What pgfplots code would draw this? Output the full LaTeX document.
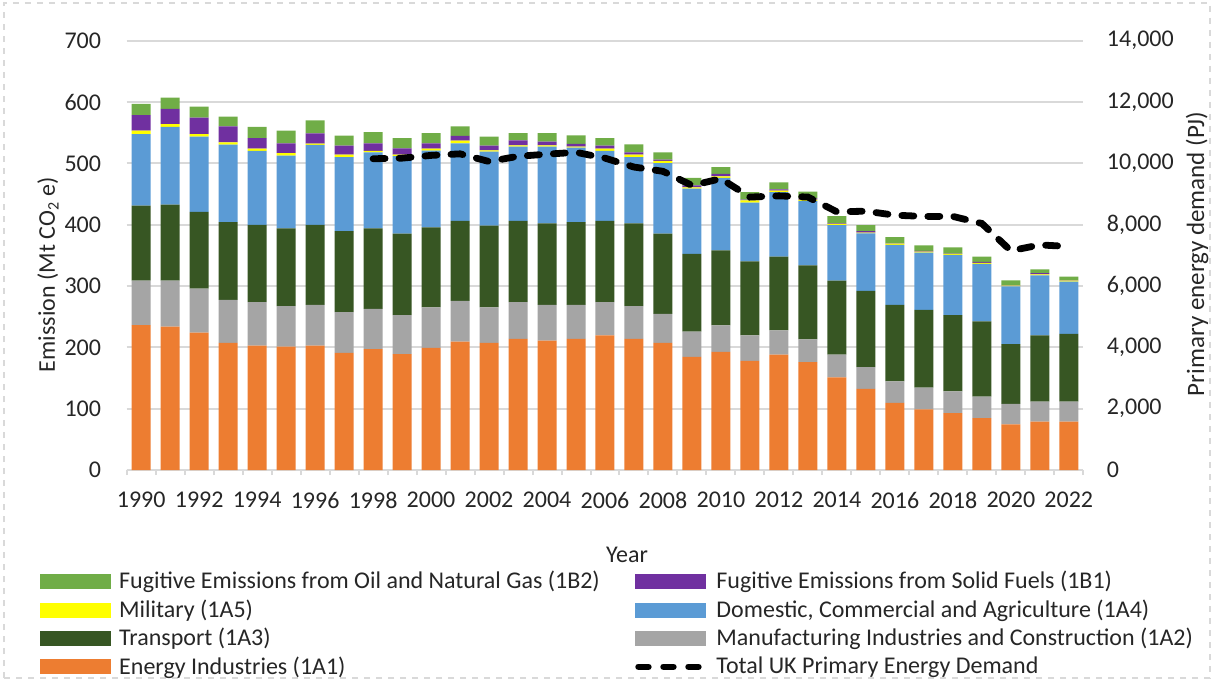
\documentclass[border=0pt]{standalone}
\usepackage{fontspec}
\setmainfont{Carlito}
\usepackage{pgfplots}
\pgfplotsset{compat=1.18}
\usepackage{pgfplotstable}
\definecolor{cA1}{HTML}{ED7D31}
\definecolor{cA2}{HTML}{A5A5A5}
\definecolor{cA3}{HTML}{375623}
\definecolor{cA4}{HTML}{5B9BD5}
\definecolor{cA5}{HTML}{FFFF00}
\definecolor{cB1}{HTML}{7030A0}
\definecolor{cB2}{HTML}{70AD47}
\definecolor{gridc}{HTML}{D9D9D9}
\definecolor{txt}{HTML}{262626}

\pgfplotstableread{
year A1 A2 A3 A4 A5 B1 B2
1990 236.4 72.3 122.5 116.6 5.4 25.3 18.4
1991 233.7 75.0 124.1 126.8 4.4 24.8 18.3
1992 224.0 71.7 125.2 122.5 4.4 26.9 17.9
1993 207.2 70.2 126.8 126.3 3.8 25.9 16.2
1994 202.9 70.7 126.3 120.3 3.8 17.3 18.3
1995 201.3 65.8 126.9 118.7 3.8 16.2 20.5
1996 202.9 66.4 130.6 130.1 2.1 16.7 21.1
1997 191.0 66.4 132.2 120.4 4.3 14.6 16.2
1998 197.0 65.8 131.2 124.0 2.2 12.4 18.4
1999 188.9 63.7 132.7 126.3 2.7 10.3 16.7
2000 199.1 65.9 130.6 125.2 3.2 8.7 16.7
2001 209.4 66.4 130.6 126.2 4.4 8.0 15.2
2002 207.2 57.8 133.3 120.9 2.1 7.6 14.5
2003 213.7 59.9 132.8 120.9 2.1 8.1 11.9
2004 211.0 58.3 132.7 125.3 2.1 6.0 14.0
2005 213.7 55.6 134.9 121.4 1.7 4.3 14.0
2006 219.6 54.0 132.8 113.8 3.8 4.9 12.4
2007 213.7 53.4 134.9 108.0 4.3 3.8 12.9
2008 207.2 47.5 130.6 115.0 3.7 2.2 11.9
2009 184.6 41.0 126.8 106.3 2.2 3.2 12.4
2010 192.7 43.1 122.5 118.2 2.2 4.3 10.8
2011 178.1 41.5 120.4 96.0 3.8 1.1 12.4
2012 188.3 39.4 120.4 105.2 2.2 2.1 11.4
2013 175.9 37.3 120.3 105.2 2.2 2.2 10.8
2014 151.1 37.2 120.4 90.7 2.1 0.5 11.9
2015 132.2 35.6 124.2 93.9 1.1 2.6 9.8
2016 109.6 35.0 124.7 97.7 2.1 0.3 10.3
2017 98.8 35.6 126.8 93.4 1.6 1.1 9.1
2018 92.8 35.6 124.2 98.2 1.6 0.3 10.3
2019 84.7 35.1 122.5 93.9 1.6 1.6 8.7
2020 74.5 33.4 97.2 94.4 1.1 0.3 8.1
2021 78.8 32.9 107.9 97.7 1.7 2.1 5.9
2022 78.8 32.9 110.1 85.3 1.6 0.3 6.5
}\emis

\pgfplotstableread{
year pj
1998 10150
1999 10170
2000 10260
2001 10310
2002 10060
2003 10230
2004 10300
2005 10360
2006 10170
2007 9880
2008 9740
2009 9280
2010 9500
2011 8900
2012 8940
2013 8900
2014 8420
2015 8440
2016 8310
2017 8270
2018 8270
2019 8040
2020 7150
2021 7340
2022 7290
}\ped

\begin{document}
\begin{tikzpicture}[font=\fontsize{12pt}{14.4pt}\selectfont, text=txt]
\useasboundingbox (-63.35pt,-105.5pt) rectangle (542.65pt,235pt);
\draw[gridc, dashed, line width=0.6pt] (-61.35pt,-104pt) rectangle (541.65pt,233.5pt);
\begin{axis}[
  at={(0,0)}, anchor=south west,
  scale only axis, width=478.3pt, height=214.65pt,
  xmin=1989.5, xmax=2022.5, ymin=0, ymax=700,
  ybar stacked, bar width=9.5pt,
  axis x line*=bottom, axis y line*=left,
  x axis line style={gridc, line width=1pt},
  y axis line style={draw=none},
  ytick={0,100,...,700},
  ytick style={draw=none},
  ymajorgrids, grid style={gridc, line width=1pt},
  xtick={1989.5,1990.5,...,2022.5}, xticklabels={},
  tick align=outside, major tick length=2.5pt,
  xtick style={gridc, line width=1pt},
  extra x ticks={1990,1992,...,2022},
  extra x tick labels={1990,1992,1994,1996,1998,2000,2002,2004,2006,2008,2010,2012,2014,2016,2018,2020,2022},
  extra x tick style={major tick length=0pt, xtick style={draw=none}, grid=none,
     xticklabel style={yshift=-7.5pt}},
  yticklabel style={xshift=-6.8pt},
  /pgf/number format/assume math mode=true,
  ticklabel style={font=\fontsize{12pt}{14.4pt}\selectfont, text=txt},
  xlabel={Year},
  xlabel style={at={(axis description cs:0.523,-0.198)}, anchor=center},
  ylabel={Emission (Mt CO\textsubscript{2} e)},
  ylabel style={at={(axis description cs:-0.0823,0.455)}, anchor=center},
  legend columns=2,
  legend cell align=left,
  legend style={draw=none, fill=none, inner sep=0pt, at={(0,0)}, anchor=north west,
    xshift=-43.35pt, yshift=-50.5pt,
    nodes={inner sep=0pt},
    font=\fontsize{12pt}{14.4pt}\selectfont,
    /tikz/every odd column/.append style={column sep=4pt},
    /tikz/every even column/.append style={column sep=17.5pt},
    row sep=3.9pt},
]
\addplot[fill=cA1, draw=none, forget plot] table[x=year, y=A1] {\emis};
\addplot[fill=cA2, draw=none, forget plot] table[x=year, y=A2] {\emis};
\addplot[fill=cA3, draw=none, forget plot] table[x=year, y=A3] {\emis};
\addplot[fill=cA4, draw=none, forget plot] table[x=year, y=A4] {\emis};
\addplot[fill=cA5, draw=none, forget plot] table[x=year, y=A5] {\emis};
\addplot[fill=cB1, draw=none, forget plot] table[x=year, y=B1] {\emis};
\addplot[fill=cB2, draw=none, forget plot] table[x=year, y=B2] {\emis};
\addlegendimage{legend image code/.code={\fill[cB2] (0pt,-3.5pt) rectangle (35pt,3.5pt);}}
\addlegendentry{Fugitive Emissions from Oil and Natural Gas (1B2)}
\addlegendimage{legend image code/.code={\fill[cB1] (0pt,-3.5pt) rectangle (35pt,3.5pt);}}
\addlegendentry{Fugitive Emissions from Solid Fuels (1B1)}
\addlegendimage{legend image code/.code={\fill[cA5] (0pt,-3.5pt) rectangle (35pt,3.5pt);}}
\addlegendentry{Military (1A5)}
\addlegendimage{legend image code/.code={\fill[cA4] (0pt,-3.5pt) rectangle (35pt,3.5pt);}}
\addlegendentry{Domestic, Commercial and Agriculture (1A4)}
\addlegendimage{legend image code/.code={\fill[cA3] (0pt,-3.5pt) rectangle (35pt,3.5pt);}}
\addlegendentry{Transport (1A3)}
\addlegendimage{legend image code/.code={\fill[cA2] (0pt,-3.5pt) rectangle (35pt,3.5pt);}}
\addlegendentry{Manufacturing Industries and Construction (1A2)}
\addlegendimage{legend image code/.code={\fill[cA1] (0pt,-3.5pt) rectangle (35pt,3.5pt);}}
\addlegendentry{Energy Industries (1A1)}
\addlegendimage{legend image code/.code={\draw[black, line width=3.2pt, line cap=round, dash pattern=on 5pt off 7.5pt] (1.6pt,0pt) -- (35pt,0pt);}}
\addlegendentry{Total UK Primary Energy Demand}
\end{axis}
\begin{axis}[
  at={(0,0)}, anchor=south west,
  scale only axis, width=478.3pt, height=214.65pt,
  xmin=1989.5, xmax=2022.5, ymin=0, ymax=14000,
  axis x line=none, axis y line*=right,
  y axis line style={draw=none},
  ytick={0,2000,...,14000},
  ytick style={draw=none},
  yticklabel style={xshift=8.3pt, /pgf/number format/.cd, 1000 sep={,}},
  /pgf/number format/assume math mode=true,
  ticklabel style={font=\fontsize{12pt}{14.4pt}\selectfont, text=txt},
  scaled y ticks=false,
  ylabel={Primary energy demand (PJ)},
  ylabel style={at={(axis description cs:1.1189,0.503)}, anchor=center, font=\fontsize{12.5pt}{15pt}\selectfont},
]
\addplot[black, line width=3.4pt, line cap=round, dash pattern=on 6pt off 7pt] table[x=year, y=pj] {\ped};
\end{axis}
\end{tikzpicture}
\end{document}
